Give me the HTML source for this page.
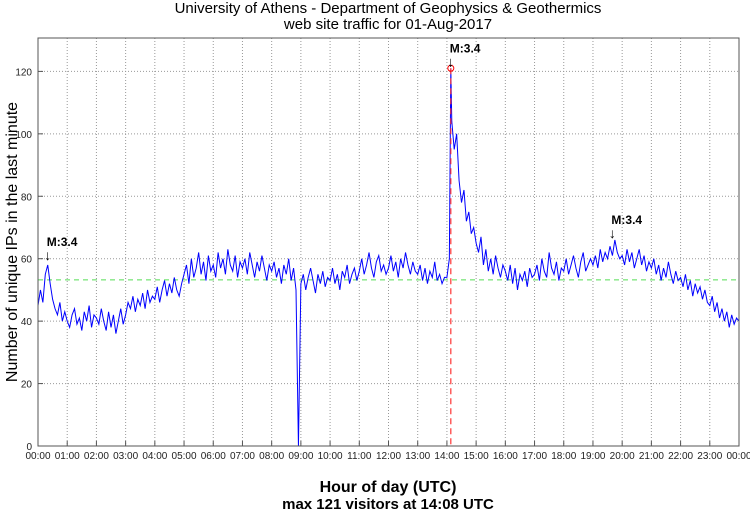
<!DOCTYPE html>
<html><head><meta charset="utf-8"><style>
body{margin:0;background:#fff}
svg{display:block;font-family:"Liberation Sans",sans-serif}
</style></head><body>
<svg id="chart" width="750" height="511">
<text x="388" y="13" font-size="15" text-anchor="middle">University of Athens - Department of Geophysics &amp; Geothermics</text>
<text x="388" y="29" font-size="15" text-anchor="middle">web site traffic for 01-Aug-2017</text>
<text x="388" y="492" font-size="16" text-anchor="middle" font-weight="bold">Hour of day (UTC)</text>
<text x="388" y="509" font-size="15" text-anchor="middle" font-weight="bold">max 121 visitors at 14:08 UTC</text>
<text transform="translate(17,242) rotate(-90)" font-size="16" text-anchor="middle">Number of unique IPs in the last minute</text>
<g id="grid"></g><g id="plot"></g><g id="axes"></g>
</svg>
<script>
const xTickLabels=["00:00","01:00","02:00","03:00","04:00","05:00","06:00","07:00","08:00","09:00","10:00","11:00","12:00","13:00","14:00","15:00","16:00","17:00","18:00","19:00","20:00","21:00","22:00","23:00","00:00"];
const yTicks=[0,20,40,60,80,100,120];
// values every 5 minutes from 00:00
const visitors=[
45,50,46,55,58,52,47,44,42,46,40,43,
40,38,42,44,39,41,37,43,40,45,38,42,
41,39,44,40,37,43,38,42,36,40,44,39,
42,46,44,48,43,47,45,49,44,50,46,48,
47,51,46,50,53,48,52,49,54,50,48,52,
55,58,52,60,54,57,62,55,59,53,61,56,
58,54,62,57,60,55,63,58,56,61,54,59,
57,60,55,62,58,54,59,56,61,57,53,58,
56,59,54,57,52,58,55,60,53,57,50,0,
52,55,50,54,57,53,49,55,52,56,51,54,
53,57,52,55,50,56,54,58,52,55,57,53,
56,60,55,58,62,57,54,59,61,56,58,55,
57,61,56,59,54,60,57,62,58,55,59,56,
55,58,53,57,52,56,54,59,53,55,52,54,
54,60,104,95,100,85,78,82,72,75,68,70,
65,62,67,58,63,56,60,55,61,57,54,58,
56,53,58,52,57,50,55,53,56,51,57,54,
55,58,53,60,56,54,62,57,55,59,53,57,
56,60,55,58,61,57,54,59,62,56,58,60,
58,61,57,63,59,62,60,64,61,66,62,60,
61,58,63,59,62,57,60,63,58,61,56,59,
57,60,55,58,53,57,54,59,55,52,56,53,
54,51,55,50,53,48,52,49,51,47,50,46,
45,48,43,46,41,44,40,43,38,42,39,41,40];
const stepMinutes=5;
const peakMinute=848, peakValue=121;
const meanValue=53.2;
const eventMinutes=[20,848,1180];
const eventValues=[59,121,66];
const eventLabels=["M:3.4","M:3.4","M:3.4"];

const L=38,R=739,T=38,B=446;
const X=m=>L+(R-L)*m/1440;
const Y=v=>B-(B-T)*v/130.7;
const NS="http://www.w3.org/2000/svg";
function mk(tag,attrs,parent){const e=document.createElementNS(NS,tag);for(const k in attrs)e.setAttribute(k,attrs[k]);document.getElementById(parent).appendChild(e);return e;}

xTickLabels.forEach((t,i)=>{
  const x=X(i*60);
  if(i>0&&i<24){const g=mk('line',{x1:x,x2:x,y1:T,y2:B,stroke:'#999','stroke-dasharray':'1,2'},'grid');
  
  }
  const tk=mk('line',{x1:x,x2:x,y1:B,y2:B-5,stroke:'#555'},'axes');
  
  
  const lb=mk('text',{x:x,y:B+13,'font-size':10,'text-anchor':'middle',fill:'#222'},'axes');
  lb.textContent=t;
  
  
});
yTicks.forEach(v=>{
  const y=Y(v);
  if(v>0){const g=mk('line',{x1:L,x2:R,y1:y,y2:y,stroke:'#999','stroke-dasharray':'1,2'},'grid');
  
  }
  const tk=mk('line',{x1:L,x2:L+5,y1:y,y2:y,stroke:'#555'},'axes');
  
  
  const lb=mk('text',{x:L-6,y:y+4,'font-size':10,'text-anchor':'end',fill:'#222'},'axes');
  lb.textContent=v;
  
  
});
const frame=mk('rect',{x:L,y:T,width:R-L,height:B-T,fill:'none',stroke:'#555'},'axes');



const mean=mk('line',{x1:L,x2:R,y1:Y(meanValue),y2:Y(meanValue),stroke:'#5d5','stroke-dasharray':'5,4','stroke-width':1},'plot');



let pts=[];let inserted=false;
visitors.forEach((v,i)=>{const m=i*stepMinutes;
  if(!inserted&&m>peakMinute){pts.push([X(peakMinute),Y(peakValue)]);inserted=true;}
  pts.push([X(m),Y(v)]);});
const line=mk('polyline',{points:pts.map(p=>p.join(',')).join(' '),fill:'none',stroke:'#00f','stroke-width':1},'plot');



const vx=X(peakMinute);
const vl=mk('line',{x1:vx,x2:vx,y1:Y(peakValue),y2:B,stroke:'#f33','stroke-dasharray':'6,4','stroke-width':1.2},'plot');


const c=mk('circle',{cx:vx,cy:Y(peakValue),r:3,fill:'none',stroke:'#f00'},'plot');



eventMinutes.forEach((m,i)=>{
  const x=X(m),y=Y(eventValues[i])-2;
  const a=mk('text',{x:x,y:y,'font-size':14,'text-anchor':'middle'},'plot');
  a.textContent='↓';
  
  
  const t=mk('text',{x:x-1,y:y-14,'font-size':12,'font-weight':'bold'},'plot');
  t.textContent=eventLabels[i];
  
  
});
</script>
</body></html>
